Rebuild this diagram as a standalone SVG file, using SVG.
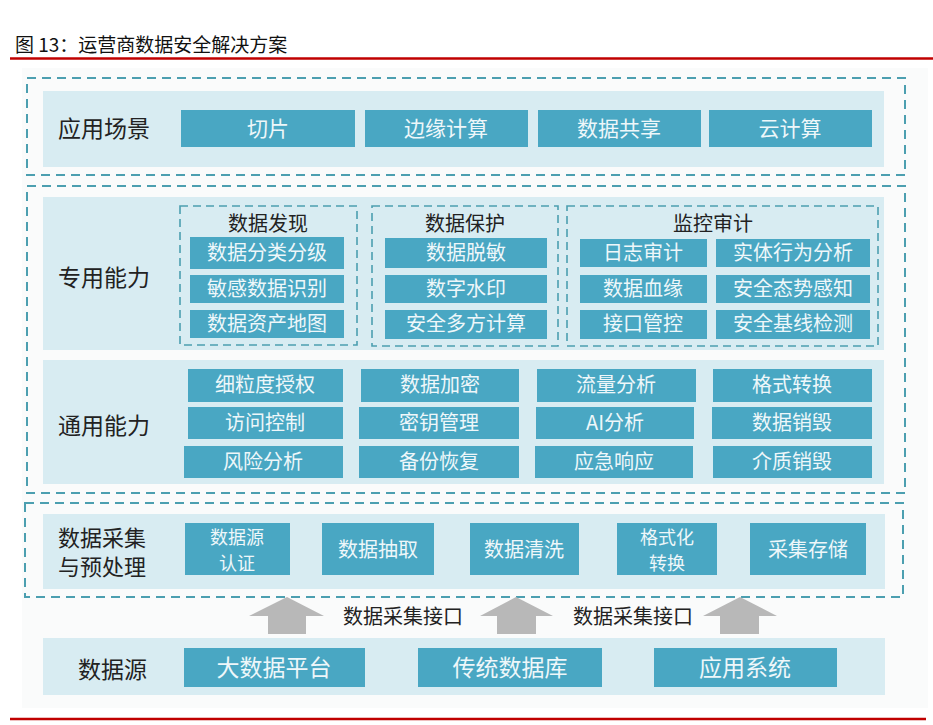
<svg xmlns="http://www.w3.org/2000/svg" width="933" height="725" viewBox="0 0 933 725">
<style>
text{font-family:"Noto Sans CJK SC","Noto Sans",sans-serif}
.title{font-size:19px;fill:#111}
.lbl{font-size:23px;fill:#222}
.lbl2{font-size:22px;fill:#222}
.sub{font-size:20px;fill:#222}
.bx{fill:#49a7c3}
.bt{font-size:20px;fill:#eef7fa}
.bt4{font-size:18px;fill:#eef7fa}
.bt2{font-size:21px;fill:#eef7fa}
.bt3{font-size:23px;fill:#eef7fa}
.pnl{fill:#d8ecf2}
.dash{fill:none;stroke:#4c9fb0;stroke-width:2;stroke-dasharray:9 6}
.dash2{fill:none;stroke:#4c9fb0;stroke-width:1.6;stroke-dasharray:8 5}
.arr{fill:#b8b8b8}
.red{stroke:#c00000;stroke-width:2.5}
</style>
<rect x="0" y="0" width="933" height="725" fill="#ffffff"/>
<rect x="22" y="68" width="906" height="640" fill="#fafbfb"/>
<text class="title" x="15" y="52">图 13：运营商数据安全解决方案</text>
<line class="red" x1="10" y1="58.5" x2="933" y2="58.5"/>
<line class="red" x1="10" y1="719" x2="926" y2="719"/>

<g id="layer-app">
<rect class="dash" x="27" y="78" width="878" height="97"/>
<rect class="pnl" x="43" y="91" width="841" height="76"/>
<text class="lbl" x="58" y="137">应用场景</text>
<g id="app-qiepian"><rect class="bx" x="181" y="110" width="174" height="37"/><text class="bt2" x="268" y="136" text-anchor="middle">切片</text></g>
<g id="app-bianyuan"><rect class="bx" x="365" y="110" width="163" height="37"/><text class="bt2" x="446" y="136" text-anchor="middle">边缘计算</text></g>
<g id="app-gongxiang"><rect class="bx" x="538" y="110" width="163" height="37"/><text class="bt2" x="619" y="136" text-anchor="middle">数据共享</text></g>
<g id="app-yun"><rect class="bx" x="709" y="110" width="163" height="37"/><text class="bt2" x="790" y="136" text-anchor="middle">云计算</text></g>
</g>

<g id="layer-capability">
<rect class="dash" x="27" y="186" width="878" height="307"/>
<rect class="pnl" x="43" y="197" width="841" height="153"/>
<text class="lbl" x="58" y="286">专用能力</text>
<g id="grp-discover">
<rect class="dash2" x="180" y="206" width="177" height="139"/>
<text class="sub" x="268" y="231" text-anchor="middle">数据发现</text>
<g id="d1"><rect class="bx" x="190" y="237" width="154" height="32"/><text class="bt" x="267" y="260" text-anchor="middle">数据分类分级</text></g>
<g id="d2"><rect class="bx" x="190" y="275" width="154" height="28"/><text class="bt" x="267" y="296" text-anchor="middle">敏感数据识别</text></g>
<g id="d3"><rect class="bx" x="190" y="310" width="154" height="28"/><text class="bt" x="267" y="331" text-anchor="middle">数据资产地图</text></g>
</g>
<g id="grp-protect">
<rect class="dash2" x="372" y="206" width="186" height="140"/>
<text class="sub" x="465" y="231" text-anchor="middle">数据保护</text>
<g id="p1"><rect class="bx" x="385" y="238" width="162" height="30"/><text class="bt" x="466" y="260" text-anchor="middle">数据脱敏</text></g>
<g id="p2"><rect class="bx" x="385" y="275" width="162" height="28"/><text class="bt" x="466" y="296" text-anchor="middle">数字水印</text></g>
<g id="p3"><rect class="bx" x="385" y="310" width="162" height="29"/><text class="bt" x="466" y="331" text-anchor="middle">安全多方计算</text></g>
</g>
<g id="grp-audit">
<rect class="dash2" x="567" y="206" width="311" height="140"/>
<text class="sub" x="713" y="231" text-anchor="middle">监控审计</text>
<g id="a1"><rect class="bx" x="580" y="239" width="127" height="28"/><text class="bt" x="643" y="260" text-anchor="middle">日志审计</text></g>
<g id="a2"><rect class="bx" x="716" y="239" width="154" height="28"/><text class="bt" x="793" y="260" text-anchor="middle">实体行为分析</text></g>
<g id="a3"><rect class="bx" x="580" y="275" width="127" height="28"/><text class="bt" x="643" y="296" text-anchor="middle">数据血缘</text></g>
<g id="a4"><rect class="bx" x="716" y="275" width="154" height="28"/><text class="bt" x="793" y="296" text-anchor="middle">安全态势感知</text></g>
<g id="a5"><rect class="bx" x="580" y="310" width="127" height="29"/><text class="bt" x="643" y="331" text-anchor="middle">接口管控</text></g>
<g id="a6"><rect class="bx" x="716" y="310" width="154" height="29"/><text class="bt" x="793" y="331" text-anchor="middle">安全基线检测</text></g>
</g>
<rect class="pnl" x="43" y="360" width="841" height="124"/>
<text class="lbl" x="58" y="434">通用能力</text>
<g id="g1"><rect class="bx" x="188" y="369" width="155" height="33"/><text class="bt" x="265" y="392" text-anchor="middle">细粒度授权</text></g>
<g id="g2"><rect class="bx" x="188" y="407" width="155" height="32"/><text class="bt" x="265" y="430" text-anchor="middle">访问控制</text></g>
<g id="g3"><rect class="bx" x="184" y="446" width="159" height="32"/><text class="bt" x="263" y="469" text-anchor="middle">风险分析</text></g>
<g id="g4"><rect class="bx" x="361" y="369" width="158" height="33"/><text class="bt" x="440" y="392" text-anchor="middle">数据加密</text></g>
<g id="g5"><rect class="bx" x="359" y="407" width="160" height="32"/><text class="bt" x="439" y="430" text-anchor="middle">密钥管理</text></g>
<g id="g6"><rect class="bx" x="359" y="446" width="160" height="32"/><text class="bt" x="439" y="469" text-anchor="middle">备份恢复</text></g>
<g id="g7"><rect class="bx" x="537" y="369" width="159" height="33"/><text class="bt" x="616" y="392" text-anchor="middle">流量分析</text></g>
<g id="g8"><rect class="bx" x="536" y="407" width="158" height="32"/><text class="bt" x="615" y="430" text-anchor="middle">AI分析</text></g>
<g id="g9"><rect class="bx" x="535" y="446" width="158" height="32"/><text class="bt" x="614" y="469" text-anchor="middle">应急响应</text></g>
<g id="g10"><rect class="bx" x="713" y="369" width="159" height="33"/><text class="bt" x="792" y="392" text-anchor="middle">格式转换</text></g>
<g id="g11"><rect class="bx" x="712" y="407" width="160" height="32"/><text class="bt" x="792" y="430" text-anchor="middle">数据销毁</text></g>
<g id="g12"><rect class="bx" x="713" y="446" width="159" height="32"/><text class="bt" x="792" y="469" text-anchor="middle">介质销毁</text></g>
</g>

<g id="layer-collect">
<rect class="dash" x="25" y="503" width="878" height="94"/>
<rect class="pnl" x="43" y="514" width="842" height="75"/>
<text class="lbl2" x="58" y="546">数据采集</text>
<text class="lbl2" x="58" y="575">与预处理</text>
<g id="c1"><rect class="bx" x="185" y="523" width="105" height="52"/><text class="bt4" x="237" y="544" text-anchor="middle">数据源</text><text class="bt4" x="237" y="570" text-anchor="middle">认证</text></g>
<g id="c2"><rect class="bx" x="322" y="523" width="112" height="52"/><text class="bt" x="378" y="557" text-anchor="middle">数据抽取</text></g>
<g id="c3"><rect class="bx" x="470" y="523" width="109" height="52"/><text class="bt" x="524" y="557" text-anchor="middle">数据清洗</text></g>
<g id="c4"><rect class="bx" x="617" y="523" width="100" height="52"/><text class="bt4" x="667" y="544" text-anchor="middle">格式化</text><text class="bt4" x="667" y="570" text-anchor="middle">转换</text></g>
<g id="c5"><rect class="bx" x="750" y="523" width="116" height="52"/><text class="bt" x="808" y="557" text-anchor="middle">采集存储</text></g>
</g>

<g id="connectors">
<polygon class="arr" points="287,597 324,616 306,616 306,634 268,634 268,616 249,616"/>
<polygon class="arr" points="516,597 553,616 536,616 536,634 497,634 497,616 480,616"/>
<polygon class="arr" points="740,597 777,616 759,616 759,634 720,634 720,616 703,616"/>
<text class="sub" x="343" y="624">数据采集接口</text>
<text class="sub" x="573" y="624">数据采集接口</text>
</g>

<g id="layer-source">
<rect class="pnl" x="43" y="638" width="842" height="57"/>
<text class="lbl" x="78" y="678">数据源</text>
<g id="s1"><rect class="bx" x="184" y="648" width="181" height="39"/><text class="bt3" x="274" y="676" text-anchor="middle">大数据平台</text></g>
<g id="s2"><rect class="bx" x="418" y="648" width="184" height="39"/><text class="bt3" x="510" y="676" text-anchor="middle">传统数据库</text></g>
<g id="s3"><rect class="bx" x="654" y="648" width="183" height="39"/><text class="bt3" x="745" y="676" text-anchor="middle">应用系统</text></g>
</g>
</svg>
